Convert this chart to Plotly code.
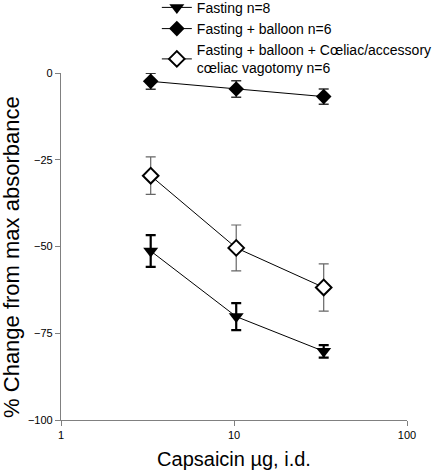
import plotly.graph_objects as go

dose = [3.3, 10.3, 33]
fasting = [-51.3, -70.2, -80.2]
fasting_err = [4.6, 3.9, 1.8]
balloon = [-2.4, -4.6, -6.8]
balloon_err = [2.3, 2.4, 2.2]
vagot = [-29.6, -50.4, -61.8]
vagot_err = [5.4, 6.6, 6.8]

names = ["Fasting n=8", "Fasting + balloon n=6",
         "Fasting + balloon + Cœliac/accessory<br>cœliac vagotomy n=6"]
y_title = "% Change from max absorbance"
x_title = "Capsaicin µg, i.d."

fig = go.Figure()
fig.add_trace(go.Scatter(
    x=dose, y=fasting, name=names[0], mode="lines+markers",
    line=dict(color="black", width=1),
    marker=dict(symbol="triangle-down", size=13, color="black"),
    error_y=dict(type="data", array=fasting_err, color="black", thickness=2.2, width=5)))
fig.add_trace(go.Scatter(
    x=dose, y=balloon, name=names[1], mode="lines+markers",
    line=dict(color="black", width=1),
    marker=dict(symbol="diamond", size=12, color="black"),
    error_y=dict(type="data", array=balloon_err, color="#333333", thickness=1.5, width=5)))
fig.add_trace(go.Scatter(
    x=dose, y=vagot, name=names[2], mode="lines+markers",
    line=dict(color="black", width=1),
    marker=dict(symbol="diamond", size=12, color="white", line=dict(color="black", width=2)),
    error_y=dict(type="data", array=vagot_err, color="#666666", thickness=1.2, width=5)))

fig.update_layout(
    width=433, height=471,
    margin=dict(l=61, r=26, t=73, b=51, autoexpand=False),
    paper_bgcolor="white", plot_bgcolor="white",
    font=dict(family="Liberation Sans, Arial", color="black"),
    showlegend=True,
    legend=dict(x=0.277, y=1.234, xanchor="left", yanchor="top",
                font=dict(size=14), bgcolor="rgba(0,0,0,0)",
                tracegroupgap=0, itemwidth=30),
    xaxis=dict(type="log", range=[0, 2], showgrid=False, zeroline=False,
               showline=True, linecolor="#808080", linewidth=1.2,
               ticks="outside", ticklen=5, tickcolor="#808080",
               tickvals=[1, 10, 100], ticktext=["1", "10", "100"],
               tickfont=dict(size=11),
               title=dict(text=x_title, font=dict(size=20), standoff=11)),
    yaxis=dict(range=[-100, 0], showgrid=False, zeroline=False,
               showline=True, linecolor="#808080", linewidth=1.2,
               ticks="outside", ticklen=5, tickcolor="#808080",
               tickvals=[0, -25, -50, -75, -100],
               tickfont=dict(size=11)),
    annotations=[dict(text=y_title, textangle=-90, xref="paper", yref="paper",
                      x=-0.1416, y=0.47, xanchor="center", yanchor="middle",
                      showarrow=False, font=dict(size=22))],
)
fig.write_html("out.html", config={"displayModeBar": False},
               post_script="document.body.style.margin='0';document.body.style.overflow='hidden';")
